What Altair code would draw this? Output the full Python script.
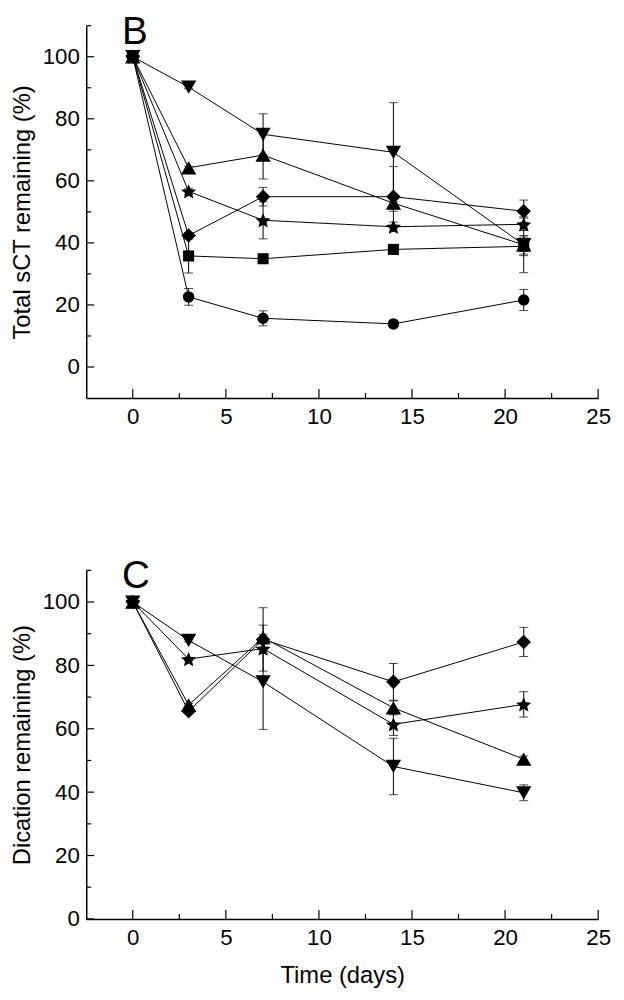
import math
import altair as alt
import pandas as pd

# ---------------- data ----------------
days = [0, 3, 7, 14, 21]

# Panel B: Total sCT remaining (%)
b_circle = [100, 22.6, 15.7, 13.9, 21.6]
b_circle_err = [0, 2.7, 2.4, 0, 3.4]
b_square = [100, 35.8, 34.9, 37.9, 38.9]
b_square_err = [0, 5.5, 0, 0, 3.0]
b_diamond = [100, 42.4, 54.9, 54.9, 50.2]
b_diamond_err = [0, 1.0, 3.0, 9.7, 3.6]
b_star = [100, 56.6, 47.3, 45.2, 46.0]
b_star_err = [0, 1.0, 6.0, 1.5, 2.0]
b_triup = [100, 64.2, 68.3, 52.8, 39.4]
b_triup_err = [0, 0.5, 7.7, 2.6, 9.0]
b_tridown = [100, 90.2, 75.0, 69.2, 39.4]
b_tridown_err = [0, 0.5, 6.6, 16.0, 3.0]

# Panel C: Dication remaining (%)
c_diamond = [100, 65.5, 88.2, 74.8, 87.4]
c_diamond_err = [0, 0.5, 10.0, 5.8, 4.6]
c_triup = [100, 67.5, 88.8, 66.6, 50.4]
c_triup_err = [0, 0.5, 3.9, 2.2, 1.0]
c_star = [100, 82.0, 85.3, 61.4, 67.7]
c_star_err = [0, 0.5, 1.5, 3.5, 4.0]
c_tridown = [100, 87.9, 74.8, 48.1, 39.8]
c_tridown_err = [0, 0.5, 15.0, 8.9, 2.5]

series_names = ["circle", "square", "diamond", "star", "triup", "tridown"]

x_major = [0, 5, 10, 15, 20, 25]
x_minor = [2.5, 7.5, 12.5, 17.5, 22.5]
y_major = [0, 20, 40, 60, 80, 100]
y_minor = [10, 30, 50, 70, 90, 110]

# ---------------- styles ----------------
FONT = "Liberation Sans"
pts = []
for k in range(10):
    r = 1.0 if k % 2 == 0 else 0.46
    a = math.radians(-90 + 36 * k)
    pts.append(f"{r * math.cos(a):.3f},{r * math.sin(a) + 0.1:.3f}")
STAR = "M" + "L".join(pts) + "Z"

shape_map = {"circle": "circle", "square": "square", "diamond": "diamond",
             "star": STAR, "triup": "triangle-up", "tridown": "triangle-down"}
size_map = {"circle": 135, "square": 125, "diamond": 215, "star": 255,
            "triup": 240, "tridown": 240}

W = 517


def build_df(groups):
    rows = []
    for name, vals, errs in groups:
        for d, v, e in zip(days, vals, errs):
            rows.append({"series": name, "day": d, "value": v, "err": e,
                         "lo": v - e, "hi": v + e})
    return pd.DataFrame(rows)


def panel(df, y_domain, y_title, height, letter, show_x_title):
    x_scale = alt.Scale(domain=[-2.5, 25], nice=False, zero=False)
    y_scale = alt.Scale(domain=y_domain, nice=False, zero=False)
    x_axis = alt.Axis(values=x_major, ticks=False, grid=False, labelFlush=False,
                      labelPadding=8, domainWidth=1.5, domainColor="black",
                      title="Time (days)" if show_x_title else None,
                      titlePadding=15)
    y_axis = alt.Axis(values=y_major, ticks=False, grid=False, labelPadding=7,
                      domainWidth=1.5, domainColor="black", title=y_title,
                      titlePadding=8)

    def X(f):
        return alt.X(f, scale=x_scale, axis=x_axis)

    def Y(f):
        return alt.Y(f, scale=y_scale, axis=y_axis)

    base = alt.Chart(df)
    lines = base.mark_line(color="black", strokeWidth=1).encode(
        x=X("day:Q"), y=Y("value:Q"), detail="series:N")
    edf = df[df["err"] > 0]
    ebase = alt.Chart(edf)
    erule = ebase.mark_rule(color="black", strokeWidth=1).encode(
        x=X("day:Q"), y=Y("lo:Q"), y2="hi:Q")
    caps = pd.concat([edf.assign(cap=edf["lo"]), edf.assign(cap=edf["hi"])])
    etick = alt.Chart(caps).mark_tick(orient="horizontal", color="black",
                                      size=9, thickness=1).encode(
        x=X("day:Q"), y=Y("cap:Q"))

    layers = [lines, erule, etick]
    for name in series_names:
        if name not in set(df["series"]):
            continue
        layers.append(
            base.transform_filter(alt.datum.series == name).mark_point(
                filled=True, opacity=1, color="black", strokeWidth=0,
                shape=shape_map[name], size=size_map[name]).encode(
                x=X("day:Q"), y=Y("value:Q")))

    ymaj = alt.Chart(pd.DataFrame({"v": y_major})).mark_rule(
        color="black", strokeWidth=1.2).encode(
        y=Y("v:Q"), x=alt.value(0), x2=alt.value(8))
    ymin = alt.Chart(pd.DataFrame({"v": y_minor})).mark_rule(
        color="black", strokeWidth=1.2).encode(
        y=Y("v:Q"), x=alt.value(0), x2=alt.value(5))
    xmaj = alt.Chart(pd.DataFrame({"v": x_major})).mark_rule(
        color="black", strokeWidth=1.2).encode(
        x=X("v:Q"), y=alt.value(height), y2=alt.value(height - 9))
    xmin = alt.Chart(pd.DataFrame({"v": x_minor})).mark_rule(
        color="black", strokeWidth=1.2).encode(
        x=X("v:Q"), y=alt.value(height), y2=alt.value(height - 5))

    txt = alt.Chart(pd.DataFrame({"t": [letter]})).mark_text(
        font=FONT, fontSize=39, align="left", baseline="alphabetic",
        color="black").encode(text="t:N", x=alt.value(36), y=alt.value(18))

    layers += [ymaj, ymin, xmaj, xmin, txt]
    return alt.layer(*layers).properties(width=W, height=height)


df_b = build_df([
    ("circle", b_circle, b_circle_err),
    ("square", b_square, b_square_err),
    ("diamond", b_diamond, b_diamond_err),
    ("star", b_star, b_star_err),
    ("triup", b_triup, b_triup_err),
    ("tridown", b_tridown, b_tridown_err),
])
df_c = build_df([
    ("diamond", c_diamond, c_diamond_err),
    ("star", c_star, c_star_err),
    ("triup", c_triup, c_triup_err),
    ("tridown", c_tridown, c_tridown_err),
])

top = panel(df_b, [-10, 110], "Total sCT remaining (%)", 376, "B", False)
bottom = panel(df_c, [0, 110], "Dication remaining (%)", 352, "C", True)

chart = alt.vconcat(top, bottom, spacing=130).properties(
    padding={"left": 2, "top": 0, "right": 5, "bottom": 5}
).configure_view(stroke=None).configure_axis(
    labelFont=FONT, titleFont=FONT, labelFontSize=22.5, titleFontSize=24,
    titleFontWeight="normal", labelColor="black", titleColor="black"
)

chart.save("out.html", embed_options={"renderer": "svg", "actions": False})
